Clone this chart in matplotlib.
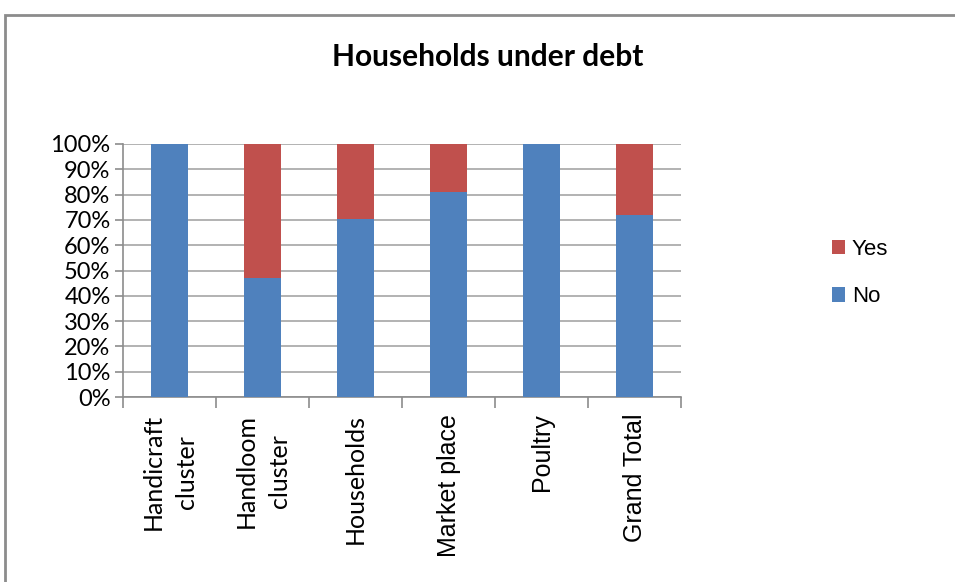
import matplotlib
matplotlib.use("Agg")
import matplotlib.pyplot as plt
from matplotlib.patches import Rectangle, Patch
from matplotlib.ticker import PercentFormatter
import numpy as np

categories = ["Handicraft\ncluster", "Handloom\ncluster", "Households", "Market place", "Poultry", "Grand Total"]
no_vals = [100.0, 47.2, 70.4, 81.2, 100.0, 71.8]
yes_vals = [0.0, 52.8, 29.6, 18.8, 0.0, 28.2]
yticks = list(range(0, 101, 10))

plt.rcParams['font.family'] = ['Lato', 'DejaVu Sans']

fig = plt.figure(figsize=(9.55, 5.82), dpi=100)
fig.patch.set_facecolor("white")

# outer frame
fig.add_artist(Rectangle((5/955, -0.05), 1.2, 1.05 - 15/582, transform=fig.transFigure,
                         fill=False, edgecolor="#8c8c8c", linewidth=2))

ax = fig.add_axes([123/955, 1-397/582, (681-123)/955, (397-144)/582])
x = np.arange(len(categories))
blue = "#4f81bd"
red = "#c0504d"
ax.bar(x, no_vals, width=0.4, color=blue, zorder=3)
ax.bar(x, yes_vals, width=0.4, bottom=no_vals, color=red, zorder=3)

ax.set_xlim(-0.5, len(categories) - 0.5)
ax.set_ylim(0, 100)
ax.set_yticks(yticks)
ax.yaxis.set_major_formatter(PercentFormatter(decimals=0))
ax.yaxis.grid(True, color="#a6a6a6", linewidth=1.2, zorder=0)
ax.set_axisbelow(True)

ax.set_xticks(np.arange(-0.5, len(categories), 1.0))
ax.set_xticklabels([])
ax.set_xticks(x, minor=True)
lbls = ax.set_xticklabels(categories, minor=True, rotation=90, fontsize=18, va="top", ha="center",
                          linespacing=1.55)
for i, t in enumerate(lbls):
    if i >= 3:
        t.set_fontfamily(['Liberation Sans', 'DejaVu Sans'])
        t.set_fontsize(18)
ax.tick_params(axis="x", which="minor", length=0, pad=12)
ax.tick_params(axis="x", which="major", length=8, color="#8c8c8c", width=1.2)
ax.tick_params(axis="y", length=6, color="#8c8c8c", width=1.2, labelsize=17, pad=3)

for s in ["top", "right"]:
    ax.spines[s].set_visible(False)
for s in ["left", "bottom"]:
    ax.spines[s].set_color("#8c8c8c")
    ax.spines[s].set_linewidth(1.2)

fig.text(488/955, 1-57/582, "Households under debt", ha="center", va="center",
         fontsize=21.5, fontweight="bold")

handles = [Patch(facecolor=red, label="Yes"), Patch(facecolor=blue, label="No")]
fig.legend(handles=handles, loc="center left", bbox_to_anchor=(812/955, 1-273/582),
           frameon=False, prop={'family': ['Liberation Sans', 'DejaVu Sans'], 'size': 16},
           handlelength=0.6, handleheight=0.6, handletextpad=0.3, labelspacing=1.2)

fig.savefig("out.png", dpi=100, facecolor="white")
